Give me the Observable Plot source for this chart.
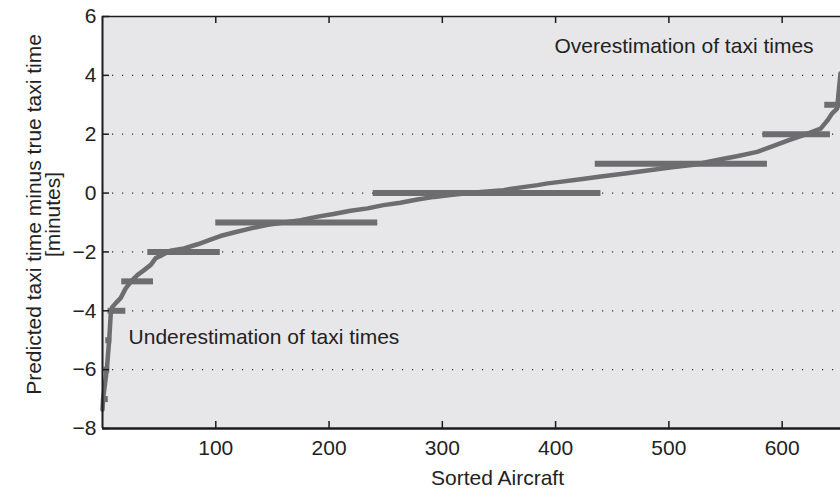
<!DOCTYPE html>
<html>
<head>
<meta charset="utf-8">
<script src="https://cdn.jsdelivr.net/npm/d3@7"></script>
<script src="https://cdn.jsdelivr.net/npm/@observablehq/plot@0.6"></script>
<style>
  html, body { margin: 0; padding: 0; background: #fff; overflow: hidden; }
</style>
</head>
<body>
<div id="chart"></div>
<script>
// Sorted prediction error curve (aircraft index, minutes)
const curveX = [0, 0.5, 3.8, 5.9, 7.3, 8.5, 11.7, 16, 20.6, 26.5, 31, 37, 42.6, 47, 53, 60, 72, 84, 96, 104, 116, 131, 146, 160, 175, 190, 204, 219, 234, 248, 263, 278, 293, 307, 322, 334, 354, 363, 384, 393, 404, 422, 440, 463, 501, 522, 546, 560, 578, 590, 606, 619, 634, 640, 644, 648.5, 650, 651.5];
const curveY = [-7.36, -7.0, -6.0, -5.0, -4.1, -3.88, -3.74, -3.57, -3.23, -2.95, -2.78, -2.61, -2.44, -2.21, -2.1, -1.96, -1.88, -1.74, -1.57, -1.46, -1.34, -1.2, -1.08, -1.0, -0.92, -0.8, -0.71, -0.6, -0.52, -0.41, -0.33, -0.22, -0.13, -0.07, -0.01, 0.04, 0.1, 0.16, 0.27, 0.33, 0.38, 0.47, 0.56, 0.67, 0.87, 0.96, 1.15, 1.25, 1.4, 1.57, 1.8, 1.97, 2.19, 2.47, 2.7, 2.87, 3.49, 4.06];

// Rounded-error bars: level (minutes), first and last aircraft index
const barLevels = [-7, -6, -5, -4, -3, -2, -1, 0, 1, 2, 3, 4];
const barStart  = [0, 1.4, 2.9, 4.9, 17, 40, 100, 239, 435, 583, 637.6, 650.5];
const barEnd    = [5.1, 6.4, 8.2, 20.6, 45, 104, 243, 440, 587, 642.6, 651.5, 651.5];

const xTicks = [100, 200, 300, 400, 500, 600];
const yTicks = [-8, -6, -4, -2, 0, 2, 4, 6];
const gridLevels = [-6, -4, -2, 0, 2, 4];

const xLabel = "Sorted Aircraft";
const yLabel = "Predicted taxi time minus true taxi time\n[minutes]";
const noteTexts = ["Overestimation of taxi times", "Underestimation of taxi times"];
const noteX = [399, 23];
const noteY = [5.0, -4.9];

const curve = curveX.map((x, i) => ({x, y: curveY[i]}));
const bars = barLevels.map((level, i) => ({level, x1: barStart[i], x2: barEnd[i]}));
const notes = noteTexts.map((text, i) => ({text, x: noteX[i], y: noteY[i]}));

const W = 840, H = 488, mL = 102, mR = 0, mT = 16, mB = 60;
const frameW = W - mL - mR, frameH = H - mT - mB;
const ink = "#1c1c1c";
const gray = "#6d6d70";

const chart = Plot.plot({
  width: W,
  height: H,
  marginLeft: mL,
  marginRight: mR,
  marginTop: mT,
  marginBottom: mB,
  style: {fontFamily: "'Liberation Sans', Arial, sans-serif", fontSize: "21px", color: "#222", background: "#fff"},
  x: {domain: [0, 651.5]},
  y: {domain: [-8, 6]},
  marks: [
    Plot.frame({fill: "#e7e7e9", stroke: null}),
    Plot.ruleY(gridLevels, {stroke: "#333", strokeWidth: 1.2, strokeDasharray: "1.2,8.8"}),
    Plot.ruleY(bars, {y: "level", x1: "x1", x2: "x2", stroke: gray, strokeWidth: 6}),
    Plot.line(curve, {x: "x", y: "y", stroke: gray, strokeWidth: 4.5, strokeLinejoin: "round", strokeLinecap: "round"}),
    Plot.ruleX([0], {stroke: ink, strokeWidth: 2}),
    Plot.ruleY([-8], {stroke: ink, strokeWidth: 2.5}),
    Plot.ruleY([6], {stroke: ink, strokeWidth: 1.5}),
    Plot.ruleX(xTicks, {x: d => d, insetTop: frameH - 7, stroke: ink, strokeWidth: 1.5}),
    Plot.ruleX(xTicks, {x: d => d, insetBottom: frameH - 7, stroke: ink, strokeWidth: 1.5}),
    Plot.ruleY(yTicks, {y: d => d, insetRight: frameW - 7, stroke: ink, strokeWidth: 1.5}),
    Plot.axisX({ticks: xTicks, tickSize: 0, tickPadding: 12, label: null, fontSize: 21}),
    Plot.axisY({ticks: yTicks, tickSize: 0, tickPadding: 6, label: null, fontSize: 21}),
    Plot.text(notes, {x: "x", y: "y", text: "text", textAnchor: "start", lineAnchor: "middle", fontSize: 21, fill: "#222"}),
    Plot.text([xLabel], {text: d => d, frameAnchor: "bottom", textAnchor: "middle", lineAnchor: "middle", dx: 26, dy: 50, fontSize: 21, fill: "#222"}),
    Plot.text([yLabel], {text: d => d, frameAnchor: "left", textAnchor: "middle", rotate: -90, lineAnchor: "middle", lineHeight: 0.9, dx: -58, dy: -8, fontSize: 21, fill: "#222"})
  ]
});

document.getElementById("chart").appendChild(chart);
</script>
</body>
</html>
